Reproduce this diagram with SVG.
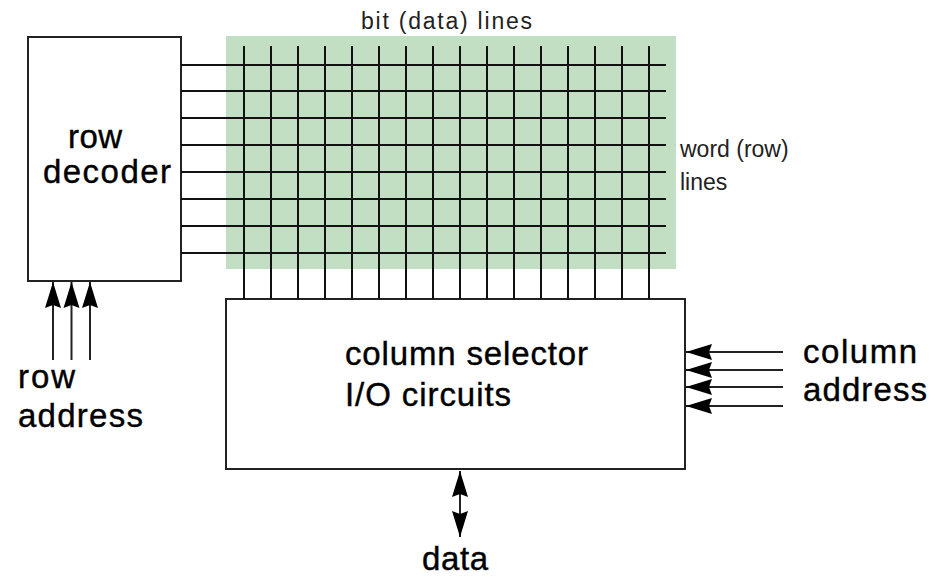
<svg xmlns="http://www.w3.org/2000/svg" width="935" height="581" viewBox="0 0 935 581">
<style>
.box{fill:#fff;stroke:#222;stroke-width:2}
.grid{stroke:#111;stroke-width:2;fill:none}
.wire{stroke:#222;stroke-width:2;fill:none}
.big{font-family:"Liberation Sans",Arial,sans-serif;font-size:33px;fill:#000;stroke:#000;stroke-width:0.4}
.small{font-family:"Liberation Sans",Arial,sans-serif;font-size:23px;fill:#222}
</style>
<defs>
<marker id="ah" markerUnits="userSpaceOnUse" viewBox="0 0 26 17" refX="26" refY="8.5" markerWidth="26" markerHeight="17" orient="auto-start-reverse">
<path d="M0,0.5 L26,8.5 L0,16.5 L3,8.5 Z" fill="#000"/>
</marker>
</defs>
<rect width="935" height="581" fill="#fff"/>
<g id="memory-array">
<rect x="226" y="36" width="450" height="233" fill="#c3dfc3"/>
</g>
<g id="row-decoder">
<rect class="box" x="28" y="37" width="153" height="244"/>
<text class="big" x="68" y="148" textLength="54" lengthAdjust="spacing">row</text>
<text class="big" x="43" y="183" textLength="128" lengthAdjust="spacing">decoder</text>
</g>
<g id="column-selector">
<rect class="box" x="226" y="299" width="459" height="170"/>
<text class="big" x="345" y="365" textLength="243" lengthAdjust="spacing">column selector</text>
<text class="big" x="345" y="406" textLength="166" lengthAdjust="spacing">I/O circuits</text>
</g>
<g id="connectors">
<g class="grid">
<path d="M181,65H666M181,91H666M181,118H666M181,145H666M181,172H666M181,199H666M181,226H666M181,253H666"/>
<path d="M244,46V299M271,46V299M298,46V299M325,46V299M352,46V299M379,46V299M406,46V299M433,46V299M460,46V299M487,46V299M514,46V299M541,46V299M568,46V299M595,46V299M622,46V299M649,46V299"/>
</g>
<g class="wire">
<line x1="53" y1="360" x2="53" y2="282" marker-end="url(#ah)"/>
<line x1="71.5" y1="360" x2="71.5" y2="282" marker-end="url(#ah)"/>
<line x1="90" y1="360" x2="90" y2="282" marker-end="url(#ah)"/>
<line x1="783" y1="352" x2="686" y2="352" marker-end="url(#ah)"/>
<line x1="783" y1="370" x2="686" y2="370" marker-end="url(#ah)"/>
<line x1="783" y1="387" x2="686" y2="387" marker-end="url(#ah)"/>
<line x1="783" y1="406" x2="686" y2="406" marker-end="url(#ah)"/>
<line x1="460" y1="471" x2="460" y2="537" marker-start="url(#ah)" marker-end="url(#ah)"/>
</g>
</g>
<g id="labels">
<text class="small" x="361" y="29" textLength="171" lengthAdjust="spacing">bit (data) lines</text>
<text class="small" x="680" y="157">word (row)</text>
<text class="small" x="680" y="190">lines</text>
<text class="big" x="18" y="388" textLength="57" lengthAdjust="spacing">row</text>
<text class="big" x="18" y="427" textLength="125" lengthAdjust="spacing">address</text>
<text class="big" x="803" y="363" textLength="114" lengthAdjust="spacing">column</text>
<text class="big" x="803" y="401" textLength="124" lengthAdjust="spacing">address</text>
<text class="big" x="422" y="570" textLength="66" lengthAdjust="spacing">data</text>
</g>
</svg>
